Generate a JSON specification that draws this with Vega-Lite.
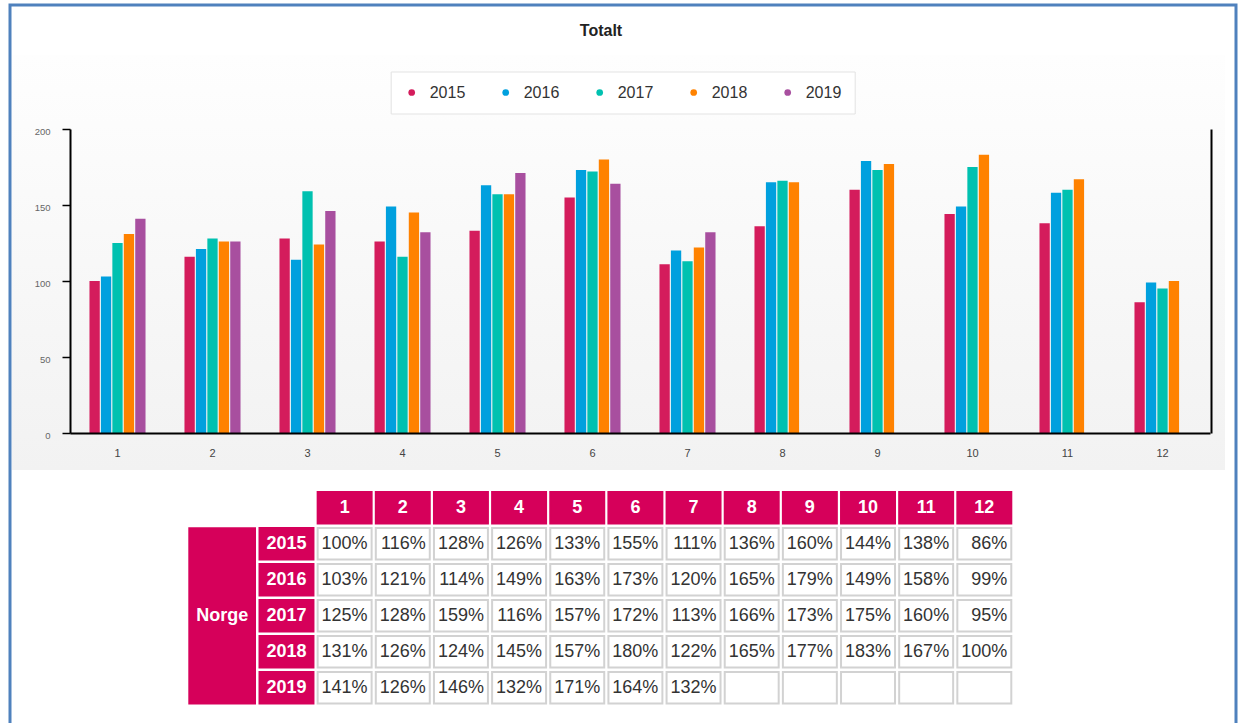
{
  "$schema": "https://vega.github.io/schema/vega-lite/v6.json",
  "width": 1226,
  "height": 725,
  "autosize": {"type": "none"},
  "padding": {"left": 10, "top": 5, "right": 2, "bottom": 0},
  "background": "white",
  "title": {"text": "Totalt", "anchor": "middle", "fontSize": 16, "fontWeight": "bold", "font": "Liberation Sans", "color": "#222222", "baseline": "alphabetic", "offset": -47, "dx": -22},
  "config": {
    "view": {"stroke": "#4f81bd", "strokeWidth": 3, "fill": "white"},
    "font": "Liberation Sans",
    "axis": {"zindex": 1, "grid": false, "title": null, "labelFont": "Liberation Sans"},
    "locale": {"number": {"decimal": ",", "thousands": " ", "grouping": [3], "currency": ["", "%"]}}
  },
  "datasets": {
    "values": [
      {"year": 2015, "month": 1, "value": 100}, {"year": 2015, "month": 2, "value": 116}, {"year": 2015, "month": 3, "value": 128}, {"year": 2015, "month": 4, "value": 126}, {"year": 2015, "month": 5, "value": 133}, {"year": 2015, "month": 6, "value": 155}, {"year": 2015, "month": 7, "value": 111}, {"year": 2015, "month": 8, "value": 136}, {"year": 2015, "month": 9, "value": 160}, {"year": 2015, "month": 10, "value": 144}, {"year": 2015, "month": 11, "value": 138}, {"year": 2015, "month": 12, "value": 86},
      {"year": 2016, "month": 1, "value": 103}, {"year": 2016, "month": 2, "value": 121}, {"year": 2016, "month": 3, "value": 114}, {"year": 2016, "month": 4, "value": 149}, {"year": 2016, "month": 5, "value": 163}, {"year": 2016, "month": 6, "value": 173}, {"year": 2016, "month": 7, "value": 120}, {"year": 2016, "month": 8, "value": 165}, {"year": 2016, "month": 9, "value": 179}, {"year": 2016, "month": 10, "value": 149}, {"year": 2016, "month": 11, "value": 158}, {"year": 2016, "month": 12, "value": 99},
      {"year": 2017, "month": 1, "value": 125}, {"year": 2017, "month": 2, "value": 128}, {"year": 2017, "month": 3, "value": 159}, {"year": 2017, "month": 4, "value": 116}, {"year": 2017, "month": 5, "value": 157}, {"year": 2017, "month": 6, "value": 172}, {"year": 2017, "month": 7, "value": 113}, {"year": 2017, "month": 8, "value": 166}, {"year": 2017, "month": 9, "value": 173}, {"year": 2017, "month": 10, "value": 175}, {"year": 2017, "month": 11, "value": 160}, {"year": 2017, "month": 12, "value": 95},
      {"year": 2018, "month": 1, "value": 131}, {"year": 2018, "month": 2, "value": 126}, {"year": 2018, "month": 3, "value": 124}, {"year": 2018, "month": 4, "value": 145}, {"year": 2018, "month": 5, "value": 157}, {"year": 2018, "month": 6, "value": 180}, {"year": 2018, "month": 7, "value": 122}, {"year": 2018, "month": 8, "value": 165}, {"year": 2018, "month": 9, "value": 177}, {"year": 2018, "month": 10, "value": 183}, {"year": 2018, "month": 11, "value": 167}, {"year": 2018, "month": 12, "value": 100},
      {"year": 2019, "month": 1, "value": 141}, {"year": 2019, "month": 2, "value": 126}, {"year": 2019, "month": 3, "value": 146}, {"year": 2019, "month": 4, "value": 132}, {"year": 2019, "month": 5, "value": 171}, {"year": 2019, "month": 6, "value": 164}, {"year": 2019, "month": 7, "value": 132}, {"year": 2019, "month": 8, "value": null}, {"year": 2019, "month": 9, "value": null}, {"year": 2019, "month": 10, "value": null}, {"year": 2019, "month": 11, "value": null}, {"year": 2019, "month": 12, "value": null}
    ],
    "months": [{"month": 1}, {"month": 2}, {"month": 3}, {"month": 4}, {"month": 5}, {"month": 6}, {"month": 7}, {"month": 8}, {"month": 9}, {"month": 10}, {"month": 11}, {"month": 12}],
    "years": [{"year": 2015}, {"year": 2016}, {"year": 2017}, {"year": 2018}, {"year": 2019}]
  },
  "layer": [
    {
      "data": {"values": [{"panel": "Totalt"}]},
      "mark": {"type": "rect", "fill": {"gradient": "linear", "x1": 0, "y1": 0, "x2": 0, "y2": 1, "stops": [{"offset": 0, "color": "#fefefe"}, {"offset": 1, "color": "#f2f2f2"}]}},
      "encoding": {
        "x": {"field": "panel", "type": "nominal", "scale": {"type": "band", "range": [2, 1215], "paddingInner": 0, "paddingOuter": 0}, "axis": null},
        "y": {"field": "panel", "type": "nominal", "scale": {"type": "band", "range": [50, 465], "paddingInner": 0, "paddingOuter": 0}, "axis": null}
      }
    },
    {
      "data": {"name": "values"},
      "transform": [{"filter": "datum.value != null"}],
      "layer": [
        {
          "mark": {"type": "bar"},
          "encoding": {
            "x": {"field": "month", "type": "ordinal", "scale": {"type": "band", "domain": [1, 2, 3, 4, 5, 6, 7, 8, 9, 10, 11, 12], "range": [60, 1200], "paddingInner": 0.41, "paddingOuter": 0.205},
                  "axis": {"orient": "bottom", "zindex": 2, "offset": -297, "title": null, "labelAngle": 0, "ticks": false, "tickSize": 0, "labelPadding": 14, "domainColor": "#000000", "domainWidth": 2, "labelFontSize": 11, "labelColor": "#444444"}},
            "xOffset": {"field": "year", "type": "nominal", "scale": {"paddingInner": 0.1, "paddingOuter": 0}},
            "y": {"field": "value", "type": "quantitative", "scale": {"domain": [0, 200], "range": [428, 124], "nice": false},
                  "axis": {"orient": "left", "zindex": 2, "offset": -60, "title": null, "values": [0, 50, 100, 150, 200], "grid": false, "domainColor": "#000000", "domainWidth": 2, "tickColor": "#000000", "tickSize": 8, "tickWidth": 1.5, "labelFontSize": 9.5, "labelColor": "#666666", "labelPadding": 12, "labelOffset": 2}},
            "color": {"field": "year", "type": "nominal",
                      "scale": {"domain": [2015, 2016, 2017, 2018, 2019], "range": ["#d41c5c", "#00a0de", "#00c1b0", "#ff8200", "#a84f9f"]},
                      "legend": {"orient": "none", "legendX": 380.7, "legendY": 66.5, "direction": "horizontal", "title": null, "symbolType": "circle", "symbolSize": 45, "symbolStrokeWidth": 0, "labelFontSize": 16, "labelFont": "Liberation Sans", "labelColor": "#333333", "labelOffset": 10, "columnPadding": 32, "padding": 13, "fillColor": "white", "strokeColor": "#e3e3e3", "zindex": 2}}
          }
        },
        {
          "mark": {"type": "point", "opacity": 0},
          "encoding": {
            "y": {"field": "value", "type": "quantitative", "axis": {"orient": "right", "zindex": 2, "offset": -25, "labels": false, "ticks": false, "title": null, "grid": false, "domainColor": "#000000", "domainWidth": 2}}
          }
        }
      ],
      "resolve": {"axis": {"y": "independent"}}
    },
    {
      "layer": [
        {
          "data": {"name": "months"},
          "mark": {"type": "rect", "fill": "#d6005a", "stroke": "#d6005a", "strokeWidth": 2},
          "encoding": {
            "x": {"field": "month", "type": "ordinal", "scale": {"type": "band", "domain": ["year", 1, 2, 3, 4, 5, 6, 7, 8, 9, 10, 11, 12], "range": [249.5, 1001.3], "paddingInner": 0.072, "paddingOuter": 0}, "axis": null},
            "y": {"datum": "header", "type": "ordinal", "scale": {"type": "band", "domain": ["header", 2015, 2016, 2017, 2018, 2019], "range": [487, 698.5], "paddingInner": 0.127, "paddingOuter": 0}, "axis": null}
          }
        },
        {
          "data": {"name": "months"},
          "mark": {"type": "text", "color": "white", "fontWeight": "bold", "fontSize": 18, "font": "Liberation Sans"},
          "encoding": {
            "x": {"field": "month", "type": "ordinal", "scale": {"type": "band", "domain": ["year", 1, 2, 3, 4, 5, 6, 7, 8, 9, 10, 11, 12], "range": [249.5, 1001.3], "paddingInner": 0.072, "paddingOuter": 0}, "axis": null},
            "y": {"datum": "header", "type": "ordinal", "scale": {"type": "band", "domain": ["header", 2015, 2016, 2017, 2018, 2019], "range": [487, 698.5], "paddingInner": 0.127, "paddingOuter": 0}, "axis": null},
            "text": {"field": "month", "type": "nominal"}
          }
        },
        {
          "data": {"name": "years"},
          "mark": {"type": "rect", "fill": "#d6005a", "stroke": "#d6005a", "strokeWidth": 2},
          "encoding": {
            "x": {"datum": "year", "type": "ordinal", "scale": {"type": "band", "domain": ["year", 1, 2, 3, 4, 5, 6, 7, 8, 9, 10, 11, 12], "range": [249.5, 1001.3], "paddingInner": 0.072, "paddingOuter": 0}, "axis": null},
            "y": {"field": "year", "type": "ordinal", "scale": {"type": "band", "domain": ["header", 2015, 2016, 2017, 2018, 2019], "range": [487, 698.5], "paddingInner": 0.127, "paddingOuter": 0}, "axis": null}
          }
        },
        {
          "data": {"name": "years"},
          "mark": {"type": "text", "color": "white", "fontWeight": "bold", "fontSize": 18, "font": "Liberation Sans"},
          "encoding": {
            "x": {"datum": "year", "type": "ordinal", "scale": {"type": "band", "domain": ["year", 1, 2, 3, 4, 5, 6, 7, 8, 9, 10, 11, 12], "range": [249.5, 1001.3], "paddingInner": 0.072, "paddingOuter": 0}, "axis": null},
            "y": {"field": "year", "type": "ordinal", "scale": {"type": "band", "domain": ["header", 2015, 2016, 2017, 2018, 2019], "range": [487, 698.5], "paddingInner": 0.127, "paddingOuter": 0}, "axis": null},
            "text": {"field": "year", "type": "nominal"}
          }
        },
        {
          "data": {"name": "values"},
          "mark": {"type": "rect", "fill": "white", "stroke": "#d2d2d2", "strokeWidth": 2},
          "encoding": {
            "x": {"field": "month", "type": "ordinal", "scale": {"type": "band", "domain": ["year", 1, 2, 3, 4, 5, 6, 7, 8, 9, 10, 11, 12], "range": [249.5, 1001.3], "paddingInner": 0.072, "paddingOuter": 0}, "axis": null},
            "y": {"field": "year", "type": "ordinal", "scale": {"type": "band", "domain": ["header", 2015, 2016, 2017, 2018, 2019], "range": [487, 698.5], "paddingInner": 0.127, "paddingOuter": 0}, "axis": null}
          }
        },
        {
          "data": {"name": "values"},
          "transform": [{"filter": "datum.value != null"}],
          "mark": {"type": "text", "align": "right", "dx": -4, "fontSize": 18, "font": "Liberation Sans", "color": "#333333"},
          "encoding": {
            "x": {"field": "month", "type": "ordinal", "bandPosition": 1, "scale": {"type": "band", "domain": ["year", 1, 2, 3, 4, 5, 6, 7, 8, 9, 10, 11, 12], "range": [249.5, 1001.3], "paddingInner": 0.072, "paddingOuter": 0}, "axis": null},
            "y": {"field": "year", "type": "ordinal", "scale": {"type": "band", "domain": ["header", 2015, 2016, 2017, 2018, 2019], "range": [487, 698.5], "paddingInner": 0.127, "paddingOuter": 0}, "axis": null},
            "text": {"field": "value", "type": "quantitative", "format": "$.0f"}
          }
        }
      ]
    },
    {
      "data": {"values": [{"region": "Norge"}]},
      "layer": [
        {
          "mark": {"type": "rect", "fill": "#d6005a"},
          "encoding": {
            "x": {"field": "region", "type": "nominal", "scale": {"type": "band", "range": [178.3, 246], "paddingInner": 0, "paddingOuter": 0}, "axis": null},
            "y": {"field": "region", "type": "nominal", "scale": {"type": "band", "range": [522.3, 699.5], "paddingInner": 0, "paddingOuter": 0}, "axis": null}
          }
        },
        {
          "mark": {"type": "text", "color": "white", "fontWeight": "bold", "fontSize": 18, "font": "Liberation Sans"},
          "encoding": {
            "x": {"field": "region", "type": "nominal", "scale": {"type": "band", "range": [178.3, 246], "paddingInner": 0, "paddingOuter": 0}, "axis": null},
            "y": {"field": "region", "type": "nominal", "scale": {"type": "band", "range": [522.3, 699.5], "paddingInner": 0, "paddingOuter": 0}, "axis": null},
            "text": {"field": "region", "type": "nominal"}
          }
        }
      ]
    }
  ],
  "resolve": {"scale": {"x": "independent", "y": "independent"}, "axis": {"x": "independent", "y": "independent"}}
}
